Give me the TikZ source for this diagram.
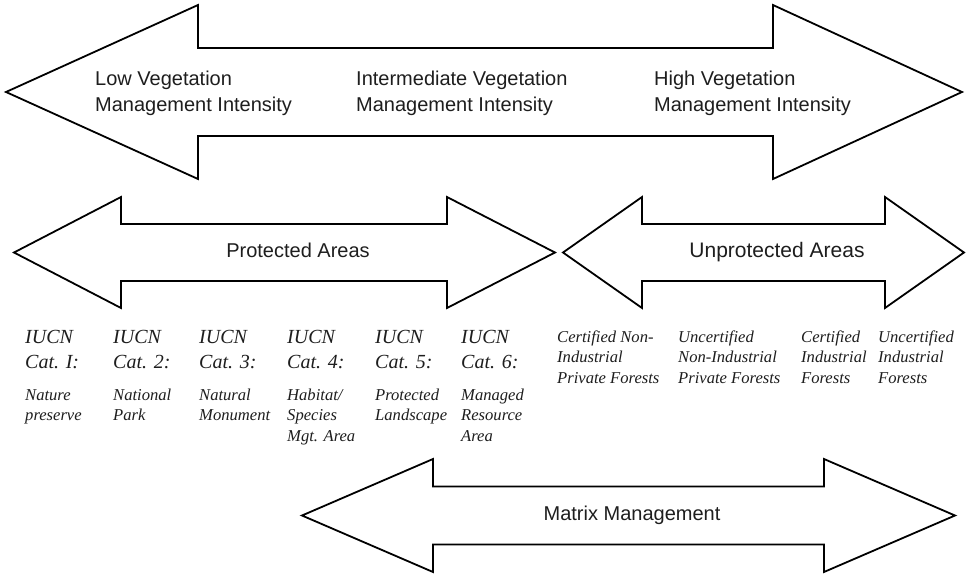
\documentclass[tikz,border=0pt]{standalone}
\usepackage{fontspec}
\setmainfont{Liberation Serif}
\setsansfont{Liberation Sans}
\definecolor{txt}{RGB}{30,30,30}
\newcommand\mylines[1]{\begin{tabular}[t]{@{}l@{}}#1\end{tabular}}
\newcommand\myarrow[7]{%
  \draw[arr] (#1,#5) -- (#2,#5-#6) -- (#2,#5-#7) -- (#3,#5-#7) -- (#3,#5-#6)
    -- (#4,#5) -- (#3,#5+#6) -- (#3,#5+#7) -- (#2,#5+#7) -- (#2,#5+#6) -- cycle;}
\tikzset{
  arr/.style={draw=black, line width=1.8pt, fill=white, line join=miter},
  toptext/.style={font=\sffamily\fontsize{20}{26.5}\selectfont, text=txt, inner sep=0pt, anchor=base west},
  midtext/.style={font=\sffamily\fontsize{20}{24}\selectfont, text=txt, inner sep=0pt, anchor=base},
  cathead/.style={font=\itshape\fontsize{20}{25}\selectfont, text=txt, inner sep=0pt, anchor=base west},
  catdesc/.style={font=\itshape\fontsize{16.6}{20.5}\selectfont, text=txt, inner sep=0pt, anchor=base west},
}
\begin{document}
\begin{tikzpicture}[x=1pt,y=-1pt]
\useasboundingbox (0,0) rectangle (969,573);
\fill[white] (0,0) rectangle (969,573);
% arrows
\myarrow{6}{198}{773}{962}{92}{87}{44}
\myarrow{14}{121}{447}{555}{252.5}{55.5}{28.5}
\myarrow{563}{642}{885}{964}{252.5}{55.5}{28.5}
\myarrow{302}{433}{824}{955}{515.5}{56.5}{29}
% top labels
\node[toptext] (low) at (95,85) {\mylines{Low Vegetation\\Management Intensity}};
\node[toptext] (mid) at (356,85) {\mylines{Intermediate Vegetation\\Management Intensity}};
\node[toptext] (high) at (654,85) {\mylines{High Vegetation\\Management Intensity}};
% arrow labels
\node[midtext] (prot) at (298,257) {Protected Areas};
\node[midtext, font=\sffamily\fontsize{21}{24}\selectfont] (unprot) at (777,257) {Unprotected Areas};
\node[midtext] (matrix) at (632,520) {Matrix Management};
% IUCN categories
\node[cathead] (c1) at (25,343) {\mylines{IUCN\\Cat. I:}};
\node[cathead] (c2) at (113,343) {\mylines{IUCN\\Cat. 2:}};
\node[cathead] (c3) at (199,343) {\mylines{IUCN\\Cat. 3:}};
\node[cathead] (c4) at (287,343) {\mylines{IUCN\\Cat. 4:}};
\node[cathead] (c5) at (375,343) {\mylines{IUCN\\Cat. 5:}};
\node[cathead] (c6) at (461,343) {\mylines{IUCN\\Cat. 6:}};
\node[catdesc] (d1) at (25,400) {\mylines{Nature\\preserve}};
\node[catdesc] (d2) at (113,400) {\mylines{National\\Park}};
\node[catdesc] (d3) at (199,400) {\mylines{Natural\\Monument}};
\node[catdesc] (d4) at (287,400) {\mylines{Habitat/\\Species\\Mgt. Area}};
\node[catdesc] (d5) at (375,400) {\mylines{Protected\\Landscape}};
\node[catdesc] (d6) at (461,400) {\mylines{Managed\\Resource\\Area}};
% forest categories
\node[catdesc] (f1) at (557,342) {\mylines{Certified Non-\\Industrial\\Private Forests}};
\node[catdesc] (f2) at (678,342) {\mylines{Uncertified\\Non-Industrial\\Private Forests}};
\node[catdesc] (f3) at (801,342) {\mylines{Certified\\Industrial\\Forests}};
\node[catdesc] (f4) at (878,342) {\mylines{Uncertified\\Industrial\\Forests}};
\end{tikzpicture}
\end{document}
